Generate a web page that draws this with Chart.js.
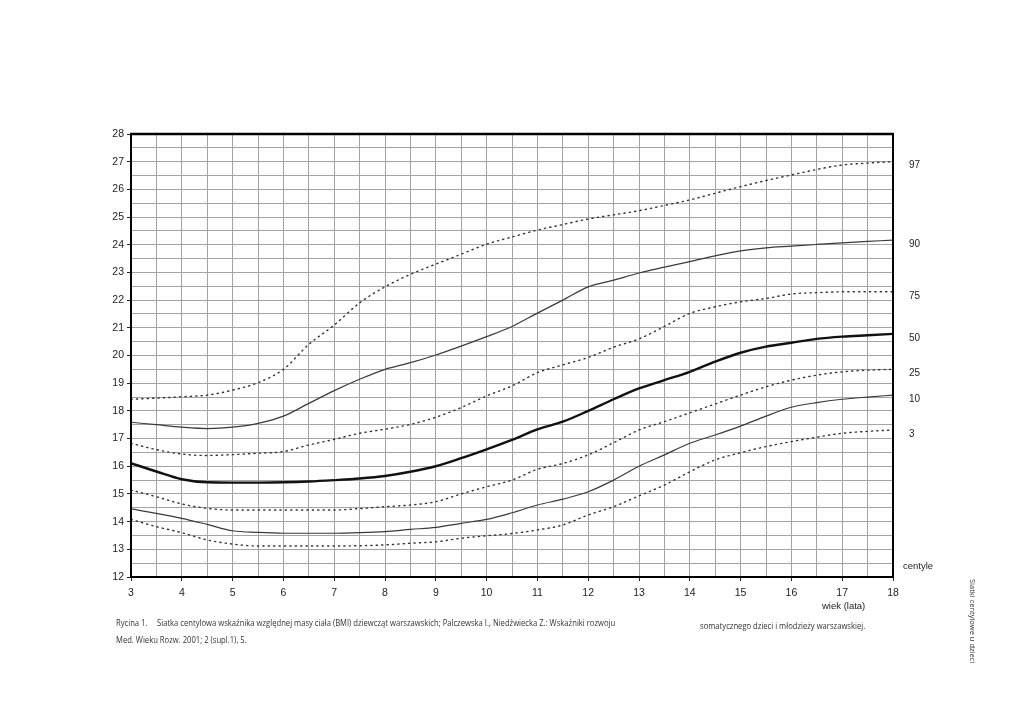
<!DOCTYPE html>
<html>
<head>
<meta charset="utf-8">
<script src="https://cdn.jsdelivr.net/npm/chart.js@4.4.1/dist/chart.umd.min.js"></script>
<style>
  body { margin: 0; background: #fff; }
  #wrap { position: relative; width: 1024px; height: 724px; overflow: hidden; }
  .t { position: absolute; white-space: nowrap; color: #222; }
  .cap { font-family: "Liberation Sans Narrow", "Open Sans", sans-serif; font-size: 8.5px; color: #333;
         transform: scaleX(0.9); transform-origin: left center; }
  .lab { font-family: "Liberation Sans", Arial, sans-serif; font-size: 9.5px; }
</style>
</head>
<body>
<div id="wrap">
  <canvas id="c" width="1024" height="724"></canvas>
  <div class="t lab" style="left:903px; top:560px;">centyle</div>
  <div class="t lab" style="left:822px; top:600px;">wiek (lata)</div>
  <div class="t cap" style="left:116px; top:617px;">Rycina 1.</div>
  <div class="t cap" style="left:157px; top:617px;">Siatka centylowa wskaźnika względnej masy ciała (BMI) dziewcząt warszawskich; Palczewska I., Niedźwiecka Z.: Wskaźniki rozwoju</div>
  <div class="t cap" style="left:700px; top:620px;">somatycznego dzieci i młodzieży warszawskiej.</div>
  <div class="t cap" style="left:116px; top:634px;">Med. Wieku Rozw. 2001; 2 (supl.1), 5.</div>
  <div class="t cap" style="left:968px; top:579px; writing-mode: vertical-rl; font-size:7.5px; transform:none;">Siatki centylowe u dzieci</div>
</div>
<script>
// wiek (lata)
const ages = [3, 3.5, 4, 4.5, 5, 5.5, 6, 6.5, 7, 7.5, 8, 8.5, 9, 9.5, 10, 10.5,
              11, 11.5, 12, 12.5, 13, 13.5, 14, 14.5, 15, 15.5, 16, 16.5, 17, 17.5, 18];

// BMI centyle
const p97 = [18.42, 18.46, 18.51, 18.57, 18.75, 19.02, 19.5, 20.4, 21.1, 21.9, 22.48, 22.93, 23.3, 23.66, 24.02, 24.28,
             24.53, 24.73, 24.93, 25.08, 25.23, 25.42, 25.62, 25.86, 26.1, 26.32, 26.52, 26.72, 26.88, 26.95, 27.0];
const p90 = [17.59, 17.5, 17.41, 17.36, 17.41, 17.55, 17.81, 18.27, 18.73, 19.14, 19.5, 19.74, 20.02, 20.34, 20.68, 21.05,
             21.53, 22.0, 22.48, 22.72, 22.98, 23.19, 23.39, 23.6, 23.78, 23.89, 23.95, 24.01, 24.07, 24.12, 24.17];
const p75 = [16.83, 16.6, 16.44, 16.39, 16.42, 16.47, 16.53, 16.77, 16.97, 17.19, 17.34, 17.51, 17.77, 18.12, 18.54, 18.9,
             19.38, 19.66, 19.93, 20.3, 20.6, 21.05, 21.52, 21.76, 21.94, 22.06, 22.22, 22.27, 22.3, 22.3, 22.3];
const p50 = [16.11, 15.81, 15.53, 15.42, 15.41, 15.41, 15.42, 15.45, 15.5, 15.56, 15.65, 15.8, 16.0, 16.29, 16.61, 16.95,
             17.33, 17.61, 18.0, 18.42, 18.81, 19.11, 19.41, 19.78, 20.1, 20.32, 20.46, 20.6, 20.68, 20.73, 20.78];
const p25 = [15.14, 14.9, 14.64, 14.48, 14.42, 14.42, 14.42, 14.42, 14.42, 14.47, 14.54, 14.6, 14.72, 15.0, 15.26, 15.5,
             15.89, 16.1, 16.41, 16.85, 17.31, 17.61, 17.93, 18.25, 18.57, 18.87, 19.11, 19.29, 19.41, 19.47, 19.5];
const p10 = [14.46, 14.3, 14.12, 13.9, 13.67, 13.61, 13.58, 13.58, 13.58, 13.6, 13.64, 13.72, 13.79, 13.94, 14.08, 14.32,
             14.6, 14.81, 15.08, 15.5, 16.0, 16.41, 16.83, 17.13, 17.45, 17.81, 18.13, 18.3, 18.42, 18.5, 18.57];
const p3  = [14.08, 13.82, 13.6, 13.34, 13.19, 13.12, 13.12, 13.12, 13.12, 13.13, 13.16, 13.22, 13.27, 13.4, 13.49, 13.57,
             13.7, 13.88, 14.24, 14.54, 14.93, 15.32, 15.8, 16.23, 16.49, 16.71, 16.89, 17.05, 17.19, 17.26, 17.31];

const centileNames = ["97", "90", "75", "50", "25", "10", "3"];
const centileSeries = [p97, p90, p75, p50, p25, p10, p3];
const dotted = [true, false, true, false, true, false, true];

const toXY = vals => ages.map((a, i) => ({ x: a, y: vals[i] }))

const datasets = centileSeries.map((vals, i) => {
    const name = centileNames[i]
    const thick = name === "50"
    return {
        label: name,
        data: toXY(vals),
        borderColor: thick ? "#111" : (dotted[i] ? "#333" : "#3a3a3a"),
        borderWidth: thick ? 2.4 : (dotted[i] ? 1.4 : 1.2),
        borderDash: dotted[i] ? [1.2, 4.2] : [],
        borderCapStyle: "round",
        pointRadius: 0,
        cubicInterpolationMode: "monotone",
        fill: false,
    }
})

// ramka wykresu + podpisy centyli po prawej
const framePlugin = {
    id: "frame",
    afterDraw(chart) {
        const { ctx, chartArea: a, scales } = chart
        ctx.save()
        ctx.strokeStyle = "#000"
        ctx.lineWidth = 2
        ctx.strokeRect(a.left, a.top, a.right - a.left, a.bottom - a.top)
        ctx.lineWidth = 2.6
        ctx.beginPath(); ctx.moveTo(a.left - 1, a.top); ctx.lineTo(a.right + 1, a.top); ctx.stroke()

        ctx.fillStyle = "#222"
        ctx.font = "10px 'Liberation Sans', Arial, sans-serif"
        ctx.textBaseline = "middle"
        centileSeries.forEach((vals, i) => {
            const y = scales.y.getPixelForValue(vals[vals.length - 1])
            ctx.fillText(centileNames[i], a.right + 16, y + 4)
        })
        ctx.restore()
    }
}

const tickFont = { family: "'Liberation Sans', Arial, sans-serif", size: 10.5 }
const isMajor = v => Math.abs(v - Math.round(v)) < 1e-6

new Chart(document.getElementById("c").getContext("2d"), {
    type: "line",
    data: { datasets },
    options: {
        responsive: false,
        animation: false,
        devicePixelRatio: 1,
        layout: { padding: { top: 134, right: 131, left: 0, bottom: 0 } },
        plugins: { legend: { display: false }, tooltip: { enabled: false } },
        scales: {
            x: {
                type: "linear",
                min: 3, max: 18,
                afterFit: s => { s.height = 147 },
                border: { display: false },
                grid: {
                    color: "#a3a3a3",
                    lineWidth: 1,
                    tickLength: 4,
                    tickColor: c => isMajor(c.tick.value) ? "#222" : "rgba(0,0,0,0)",
                },
                ticks: {
                    stepSize: 0.5,
                    autoSkip: false,
                    maxRotation: 0,
                    padding: 6,
                    color: "#222",
                    font: tickFont,
                    callback: v => isMajor(v) ? String(Math.round(v)) : "",
                },
            },
            y: {
                min: 12, max: 28,
                afterFit: s => { s.width = 131 },
                border: { display: false },
                grid: {
                    color: "#a3a3a3",
                    lineWidth: 1,
                    tickLength: 4,
                    tickColor: c => isMajor(c.tick.value) ? "#222" : "rgba(0,0,0,0)",
                },
                ticks: {
                    stepSize: 0.5,
                    autoSkip: false,
                    padding: 3,
                    color: "#222",
                    font: tickFont,
                    callback: v => isMajor(v) ? String(Math.round(v)) : "",
                },
            },
        },
    },
    plugins: [framePlugin],
})
</script>
</body>
</html>
